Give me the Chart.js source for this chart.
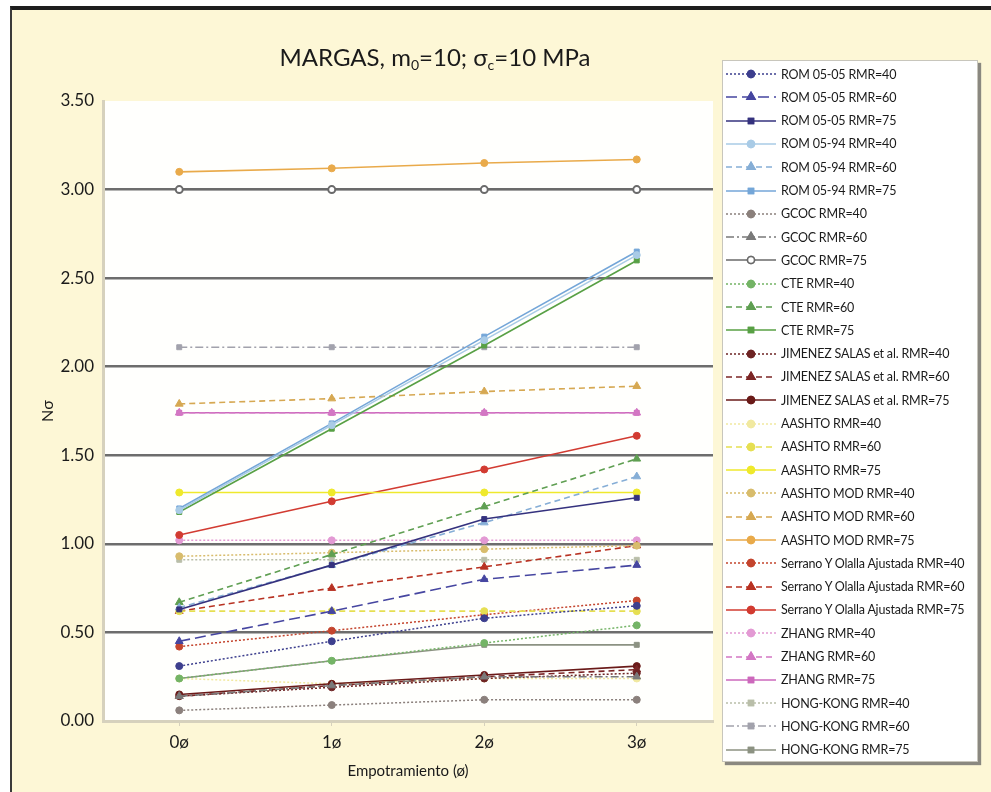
<!DOCTYPE html>
<html>
<head>
<meta charset="utf-8">
<script src="https://cdn.jsdelivr.net/npm/chart.js@4.4.1/dist/chart.umd.min.js"></script>
<style>
  html, body { margin: 0; padding: 0; background: #ffffff; }
  body { width: 991px; height: 792px; position: relative; overflow: hidden; font-family: 'Lato', sans-serif; }
  #frame {
    position: absolute; left: 10px; top: 6px; width: 990px; height: 800px;
    background: #fdf7d6;
    border-top: 4px solid #1e1e1e; border-left: 2px solid #3a3a3a;
  }
  #chartWrap { position: absolute; left: 0; top: 0; width: 991px; height: 792px; }
  #title {
    position: absolute; left: 130px; width: 610px; top: 42px;
    text-align: center; font-size: 24px; color: #1a1a1a;
  }
  #title sub { font-size: 14px; vertical-align: -4px; line-height: 0; }
  #legend {
    position: absolute; left: 722px; top: 60px; width: 254px; height: 700px;
    background: #ffffff; border: 1px solid #c8c6bc;
    box-shadow: 3px 3px 1px #8a8880;
  }
  .item { position: absolute; left: 0; height: 20px; display: flex; align-items: center; }
  .item canvas { margin-left: 3px; margin-right: 5px; }
  .item span { font-size: 12.5px; color: #1a1a1a; white-space: nowrap; letter-spacing: -0.2px; }
</style>
</head>
<body>
<div id="frame"></div>
<div id="chartWrap"><canvas id="chart" width="991" height="792"></canvas></div>
<div id="title">MARGAS, m<sub>0</sub>=10; σ<sub>c</sub>=10 MPa</div>
<div id="legend"></div>
<script>
// --- data ---
const categories = ['0ø', '1ø', '2ø', '3ø'];
const yTicks = [0, 0.5, 1, 1.5, 2, 2.5, 3, 3.5];

const rom0505_40 = [0.31, 0.45, 0.58, 0.65];
const rom0505_60 = [0.45, 0.62, 0.80, 0.88];
const rom0505_75 = [0.63, 0.88, 1.14, 1.26];
const rom0594_40 = [1.19, 1.67, 2.15, 2.63];
const rom0594_60 = [0.64, 0.88, 1.12, 1.38];
const rom0594_75 = [1.20, 1.68, 2.17, 2.65];
const gcoc_40 = [0.06, 0.09, 0.12, 0.12];
const gcoc_60 = [0.14, 0.20, 0.25, 0.25];
const gcoc_75 = [3.00, 3.00, 3.00, 3.00];
const cte_40 = [0.24, 0.34, 0.44, 0.54];
const cte_60 = [0.67, 0.94, 1.21, 1.48];
const cte_75 = [1.18, 1.65, 2.12, 2.60];
const jimenez_40 = [0.14, 0.19, 0.24, 0.27];
const jimenez_60 = [0.14, 0.20, 0.25, 0.29];
const jimenez_75 = [0.15, 0.21, 0.26, 0.31];
const aashto_40 = [0.24, 0.21, 0.24, 0.24];
const aashto_60 = [0.62, 0.62, 0.62, 0.62];
const aashto_75 = [1.29, 1.29, 1.29, 1.29];
const aashtoMod_40 = [0.93, 0.95, 0.97, 0.99];
const aashtoMod_60 = [1.79, 1.82, 1.86, 1.89];
const aashtoMod_75 = [3.10, 3.12, 3.15, 3.17];
const serrano_40 = [0.42, 0.51, 0.60, 0.68];
const serrano_60 = [0.62, 0.75, 0.87, 0.99];
const serrano_75 = [1.05, 1.24, 1.42, 1.61];
const zhang_40 = [1.02, 1.02, 1.02, 1.02];
const zhang_60 = [1.74, 1.74, 1.74, 1.74];
const zhang_75 = [1.74, 1.74, 1.74, 1.74];
const hk_40 = [0.91, 0.91, 0.91, 0.91];
const hk_60 = [2.11, 2.11, 2.11, 2.11];
const hk_75 = [0.24, 0.34, 0.43, 0.43];

const seriesNames = [
    'ROM 05-05 RMR=40', 'ROM 05-05 RMR=60', 'ROM 05-05 RMR=75',
    'ROM 05-94 RMR=40', 'ROM 05-94 RMR=60', 'ROM 05-94 RMR=75',
    'GCOC RMR=40', 'GCOC RMR=60', 'GCOC RMR=75',
    'CTE RMR=40', 'CTE RMR=60', 'CTE RMR=75',
    'JIMENEZ SALAS et al. RMR=40', 'JIMENEZ SALAS et al. RMR=60', 'JIMENEZ SALAS et al. RMR=75',
    'AASHTO RMR=40', 'AASHTO RMR=60', 'AASHTO RMR=75',
    'AASHTO MOD RMR=40', 'AASHTO MOD RMR=60', 'AASHTO MOD RMR=75',
    'Serrano Y Olalla Ajustada RMR=40', 'Serrano Y Olalla Ajustada RMR=60', 'Serrano Y Olalla Ajustada RMR=75',
    'ZHANG RMR=40', 'ZHANG RMR=60', 'ZHANG RMR=75',
    'HONG-KONG RMR=40', 'HONG-KONG RMR=60', 'HONG-KONG RMR=75'
];
const seriesValues = [
    rom0505_40, rom0505_60, rom0505_75,
    rom0594_40, rom0594_60, rom0594_75,
    gcoc_40, gcoc_60, gcoc_75,
    cte_40, cte_60, cte_75,
    jimenez_40, jimenez_60, jimenez_75,
    aashto_40, aashto_60, aashto_75,
    aashtoMod_40, aashtoMod_60, aashtoMod_75,
    serrano_40, serrano_60, serrano_75,
    zhang_40, zhang_60, zhang_75,
    hk_40, hk_60, hk_75
];

// --- styles (colour, dash pattern, marker) ---
const DOT = [2, 2], DASH = [6, 4], LONG = [11, 5], DASHDOT = [8, 3, 2, 3], SOLID = [];
const seriesStyle = [
    ['#3d3f8e', DOT, 'circle'], ['#4646a0', LONG, 'triangle'], ['#35327e', SOLID, 'rect'],
    ['#a9cbe6', SOLID, 'circle'], ['#86aed6', DASH, 'triangle'], ['#74a6d8', SOLID, 'rect'],
    ['#8b807c', DOT, 'circle'], ['#7a7a7a', DASHDOT, 'triangle'], ['#6a6a6a', SOLID, 'circle'],
    ['#74b466', DOT, 'circle'], ['#5f9f52', DASH, 'triangle'], ['#58a045', SOLID, 'rect'],
    ['#6e2424', DOT, 'circle'], ['#7c2626', DASH, 'triangle'], ['#6a1a18', SOLID, 'circle'],
    ['#f1e9a0', DOT, 'circle'], ['#e6df52', DASH, 'circle'], ['#efe92c', SOLID, 'circle'],
    ['#d8bc6c', DOT, 'circle'], ['#d6a852', DASH, 'triangle'], ['#e9aa4a', SOLID, 'circle'],
    ['#c4452e', DOT, 'circle'], ['#b83222', DASH, 'triangle'], ['#d23b31', SOLID, 'circle'],
    ['#e39ad4', DOT, 'circle'], ['#d377c4', DASH, 'triangle'], ['#cc68bc', SOLID, 'rect'],
    ['#b9bea9', DOT, 'rect'], ['#a2a2ac', DASHDOT, 'rect'], ['#8c9282', SOLID, 'rect']
];

const datasets = seriesNames.map((name, i) => {
    const [color, dash, marker] = seriesStyle[i];
    return {
        label: name,
        data: seriesValues[i],
        borderColor: color,
        backgroundColor: name === 'GCOC RMR=75' ? '#ffffff' : color,
        pointBorderColor: color,
        borderWidth: dash === DOT ? 1.5 : 1.6,
        borderDash: dash,
        pointStyle: marker,
        pointRadius: marker === 'triangle' ? 4.5 : 3.5,
        pointBorderWidth: name === 'GCOC RMR=75' ? 2 : 1,
        tension: 0,
        fill: false
    };
});

// white plot area behind the series
const plotBackground = {
    id: 'plotBackground',
    beforeDraw(chart) {
        const { ctx, chartArea: a } = chart;
        ctx.save();
        ctx.fillStyle = '#fffffd';
        ctx.fillRect(a.left, a.top, a.right - a.left, a.bottom - a.top);
        ctx.restore();
    }
};

const ctx = document.getElementById('chart').getContext('2d');
const chart = new Chart(ctx, {
    type: 'line',
    data: { labels: categories, datasets: datasets },
    plugins: [plotBackground],
    options: {
        responsive: false,
        animation: false,
        events: [],
        layout: { padding: { left: 10, right: 278, top: 101, bottom: 10 } },
        plugins: { legend: { display: false }, tooltip: { enabled: false } },
        scales: {
            x: {
                offset: true,
                afterFit: s => { s.height = 61; },
                grid: { display: true, drawOnChartArea: false, tickLength: 5, color: '#d6d1bd', lineWidth: 1 },
                border: { color: '#d6d1bd', width: 3 },
                ticks: { color: '#1a1a1a', font: { family: 'Lato', size: 17 }, padding: 6 },
                title: { display: true, text: 'Empotramiento (ø)', color: '#1a1a1a', font: { family: 'Lato', size: 15 }, padding: { top: 0, bottom: 2 } }
            },
            y: {
                min: 0,
                max: 3.5,
                afterFit: s => { s.width = 93; },
                afterBuildTicks: s => { s.ticks = yTicks.map(v => ({ value: v })); },
                grid: {
                    drawTicks: false,
                    color: c => (c.tick.value === 0 || c.tick.value === 3.5) ? 'rgba(0,0,0,0)' : '#6d6d6d',
                    lineWidth: 2.5
                },
                border: { color: '#d6d1bd', width: 3 },
                ticks: {
                    color: '#1a1a1a', font: { family: 'Lato', size: 17 }, padding: 9,
                    callback: v => Number(v).toFixed(2)
                },
                title: { display: true, text: 'Nσ', color: '#1a1a1a', font: { family: 'Lato', size: 16 }, padding: { top: 28, bottom: 0 } }
            }
        }
    }
});

// --- legend with line + marker previews built from the datasets ---
function drawPreview(cv, ds) {
    const g = cv.getContext('2d');
    g.strokeStyle = ds.borderColor;
    g.lineWidth = ds.borderWidth;
    g.setLineDash(ds.borderDash);
    g.beginPath();
    g.moveTo(0, cv.height / 2);
    g.lineTo(cv.width, cv.height / 2);
    g.stroke();
    g.setLineDash([]);
    Chart.helpers.drawPoint(g, {
        pointStyle: ds.pointStyle, radius: ds.pointRadius, borderWidth: ds.pointBorderWidth, rotation: 0
    }, cv.width / 2, cv.height / 2);
    g.fillStyle = ds.backgroundColor;
    g.fill();
    g.stroke();
}

const legend = document.getElementById('legend');
chart.data.datasets.forEach((ds, i) => {
    const item = document.createElement('div');
    item.className = 'item';
    item.style.top = (3 + i * 23.3) + 'px';
    const cv = document.createElement('canvas');
    cv.width = 50; cv.height = 14;
    drawPreview(cv, ds);
    const label = document.createElement('span');
    label.textContent = ds.label;
    item.appendChild(cv);
    item.appendChild(label);
    legend.appendChild(item);
});
</script>
</body>
</html>
